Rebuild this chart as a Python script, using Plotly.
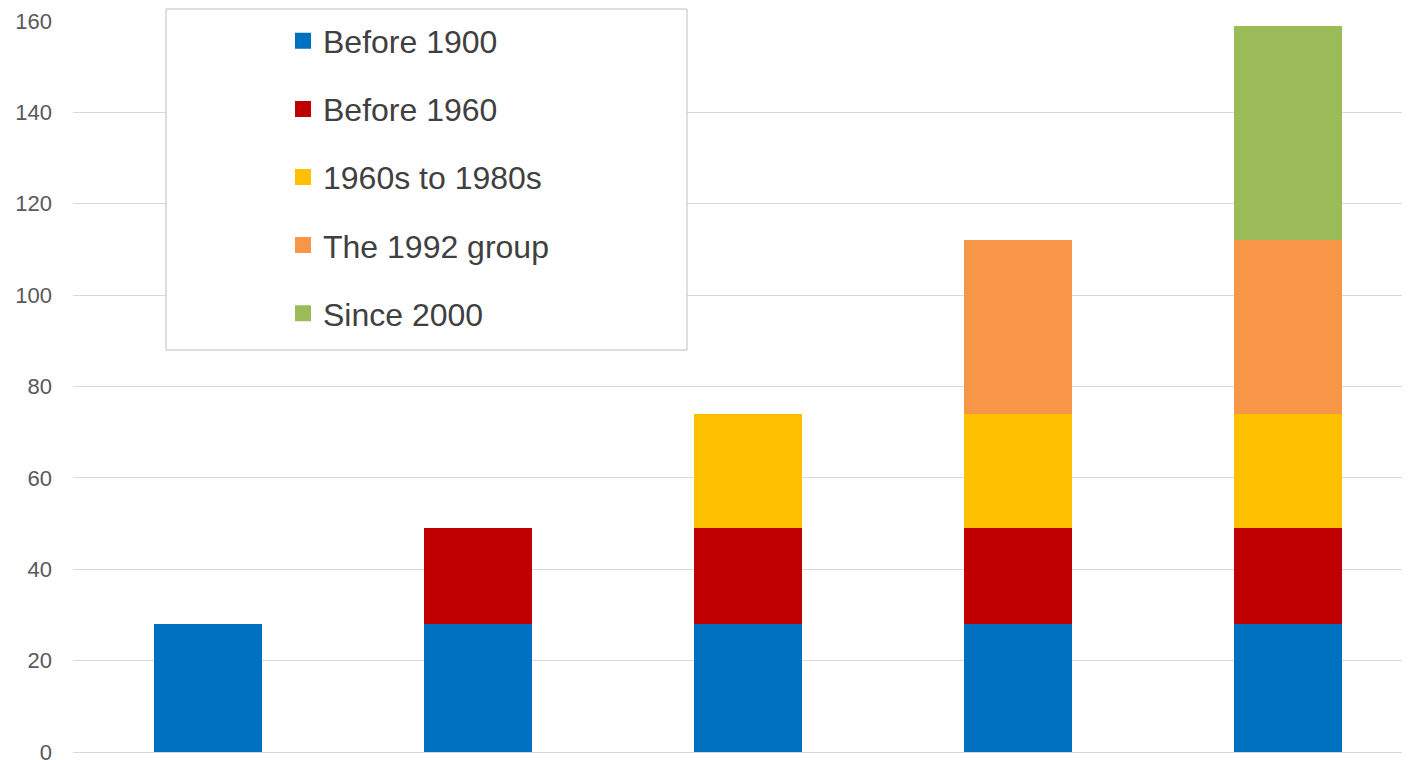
import plotly.graph_objects as go

positions = [0, 1, 2, 3, 4]
series_names = ["Before 1900", "Before 1960", "1960s to 1980s", "The 1992 group", "Since 2000"]
before_1900 = [28, 28, 28, 28, 28]
before_1960 = [None, 21, 21, 21, 21]
sixties_to_eighties = [None, None, 25, 25, 25]
group_1992 = [None, None, None, 38, 38]
since_2000 = [None, None, None, None, 47]
colors = ["#0070C0", "#C00000", "#FFC000", "#F79646", "#9BBB59"]
y_ticks = [0, 20, 40, 60, 80, 100, 120, 140, 160]

# page body has an 8px margin, so the figure starts at (8, 8) on screen
OFF = 8
W, H = 1410 - OFF, 760 - OFF
L, R, T, B = 73 - OFF, 0, 20.5 - OFF, 7.5
pw, ph = W - L - R, H - T - B

fig = go.Figure()
for i, (name, vals) in enumerate(zip(series_names, [before_1900, before_1960, sixties_to_eighties, group_1992, since_2000])):
    fig.add_trace(go.Bar(
        x=positions, y=vals, name=name,
        marker=dict(color=colors[i], line=dict(width=0)),
        legendgroup=f"g{i}", showlegend=False,
    ))
    # legend entry with a larger square swatch
    fig.add_trace(go.Scatter(
        x=[None], y=[None], name=name, mode="markers",
        marker=dict(symbol="square", size=16, color=colors[i]),
        legendgroup=f"g{i}", showlegend=True,
    ))

def px_x(p):
    return (p - OFF - L) / pw

def px_y(p):
    return (H - B - (p - OFF)) / ph

fig.add_shape(type="rect", xref="paper", yref="paper",
              x0=px_x(166), x1=px_x(687), y0=px_y(350), y1=px_y(8.5),
              line=dict(color="#BFBFBF", width=1), fillcolor="white", layer="above")

fig.update_layout(
    width=W, height=H,
    margin=dict(l=L, r=R, t=T, b=B, autoexpand=False),
    barmode="stack", bargap=0.6,
    plot_bgcolor="white", paper_bgcolor="white",
    font=dict(family="Liberation Sans, Arial, sans-serif"),
    showlegend=True,
    legend=dict(
        x=px_x(283), y=px_y(13), xanchor="left", yanchor="top",
        bgcolor="rgba(0,0,0,0)", borderwidth=0,
        font=dict(size=32, color="#404040"),
        traceorder="grouped", tracegroupgap=23.5, itemsizing="trace",
    ),
    xaxis=dict(range=[-0.5, 4.452], showticklabels=False, showgrid=False,
               zeroline=False, showline=False, ticks="", automargin=False),
    yaxis=dict(range=[0, 160], tickvals=y_ticks, showgrid=True, gridcolor="#D9D9D9",
               gridwidth=1, zeroline=True, zerolinecolor="#D9D9D9", zerolinewidth=1,
               showline=False, ticks="", ticklabelstandoff=20,
               ticklabeloverflow="allow", automargin=False,
               tickfont=dict(size=22, color="#595959")),
)

fig.write_html("out.html")
